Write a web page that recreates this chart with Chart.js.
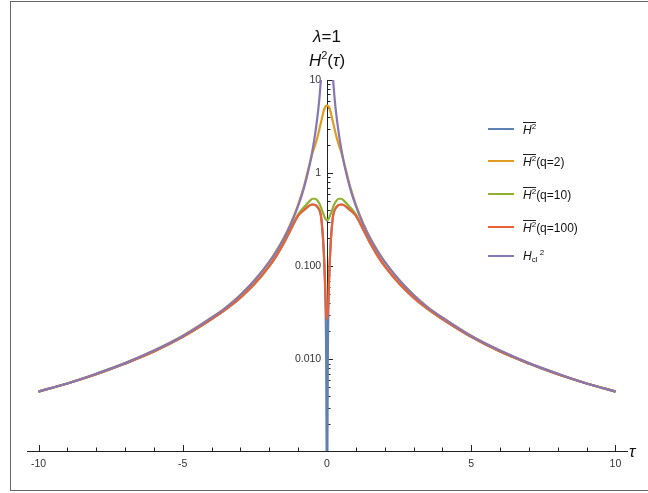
<!DOCTYPE html>
<html>
<head>
<meta charset="utf-8">
<script src="https://cdn.jsdelivr.net/npm/chart.js@4.4.1/dist/chart.umd.min.js"></script>
<style>
  html, body { margin: 0; padding: 0; background: #fff; }
  #wrap { position: relative; width: 648px; height: 493px; overflow: hidden; font-family: "Liberation Sans", Arial, sans-serif; color: #111; }
  #frame { position: absolute; left: 10px; top: 1px; width: 660px; height: 488px; border: 1.5px solid #666; }
  canvas { position: absolute; left: 0; top: 0; }
  .ttl { position: absolute; left: 277px; width: 100px; text-align: center; font-size: 17px; line-height: 20px; white-space: nowrap; }
  .ttl sup { font-size: 11px; vertical-align: 7px; line-height: 0; }
  #tau { position: absolute; left: 629px; top: 442px; font-size: 17px; line-height: 20px; font-style: italic; }
  .leg { position: absolute; left: 488px; height: 16px; display: flex; align-items: center; font-size: 12px; white-space: nowrap; }
  .sw { display: inline-block; width: 26px; height: 2px; margin-right: 9px; }
  .ov { display: inline-block; border-top: 1px solid #222; line-height: 12px; padding-top: 1px; }
  .leg sup { font-size: 8px; vertical-align: 5px; line-height: 0; }
  .leg sub { font-size: 8px; vertical-align: -2px; line-height: 0; }
</style>
</head>
<body>
<div id="wrap">
  <div id="frame"></div>
  <canvas id="chart" width="648" height="493"></canvas>
  <div class="ttl" style="top:27px"><i>λ</i>=1</div>
  <div class="ttl" style="top:51px"><i>H</i><sup>2</sup>(<i>τ</i>)</div>
  <div id="tau">τ</div>
  <div id="legend"></div>
</div>
<script>
// sample points along tau
const tau = [-10, -9, -8, -7, -6, -5, -4, -3.5, -3, -2.5, -2, -1.75, -1.5, -1.25, -1,
  -0.8, -0.6, -0.5, -0.4, -0.3, -0.25, -0.2, -0.12, -0.07, -0.03, 0,
  0.03, 0.07, 0.12, 0.2, 0.25, 0.3, 0.4, 0.5, 0.6, 0.8,
  1, 1.25, 1.5, 1.75, 2, 2.5, 3, 3.5, 4, 5, 6, 7, 8, 9, 10];

// H^2 bar (no q)
const hBar = [0.0045, 0.0055, 0.0069, 0.009, 0.0121, 0.0174, 0.027, 0.0345, 0.046, 0.065, 0.1, 0.13, 0.176, 0.25, 0.35,
  0.4, 0.45, 0.46, 0.455, 0.42, 0.39, 0.33, 0.16, 0.066, 0.012, 0.0002,
  0.012, 0.066, 0.16, 0.33, 0.39, 0.42, 0.455, 0.46, 0.45, 0.4,
  0.35, 0.25, 0.176, 0.13, 0.1, 0.065, 0.046, 0.0345, 0.027, 0.0174, 0.0121, 0.009, 0.0069, 0.0055, 0.0045];

// q = 2
const hQ2 = [0.0045, 0.0055, 0.007, 0.0091, 0.0124, 0.0179, 0.0281, 0.0362, 0.0493, 0.0715, 0.112, 0.147, 0.201, 0.292, 0.46,
  0.72, 1.27, 1.65, 2.05, 2.65, 3.1, 3.6, 4.6, 5.1, 5.28, 5.3,
  5.28, 5.1, 4.6, 3.6, 3.1, 2.65, 2.05, 1.65, 1.27, 0.72,
  0.46, 0.292, 0.201, 0.147, 0.112, 0.0715, 0.0493, 0.0362, 0.0281, 0.0179, 0.0124, 0.0091, 0.007, 0.0055, 0.0045];

// q = 10
const hQ10 = [0.0045, 0.0055, 0.0069, 0.009, 0.0121, 0.0174, 0.0271, 0.0346, 0.0462, 0.0655, 0.101, 0.131, 0.178, 0.255, 0.36,
  0.43, 0.5, 0.53, 0.53, 0.49, 0.46, 0.42, 0.36, 0.33, 0.315, 0.31,
  0.315, 0.33, 0.36, 0.42, 0.46, 0.49, 0.53, 0.53, 0.5, 0.43,
  0.36, 0.255, 0.178, 0.131, 0.101, 0.0655, 0.0462, 0.0346, 0.0271, 0.0174, 0.0121, 0.009, 0.0069, 0.0055, 0.0045];

// q = 100
const hQ100 = [0.0045, 0.0055, 0.0069, 0.009, 0.0121, 0.0174, 0.027, 0.0345, 0.046, 0.065, 0.1, 0.13, 0.176, 0.25, 0.35,
  0.4, 0.45, 0.46, 0.455, 0.42, 0.39, 0.33, 0.16, 0.07, 0.032, 0.027,
  0.032, 0.07, 0.16, 0.33, 0.39, 0.42, 0.455, 0.46, 0.45, 0.4,
  0.35, 0.25, 0.176, 0.13, 0.1, 0.065, 0.046, 0.0345, 0.027, 0.0174, 0.0121, 0.009, 0.0069, 0.0055, 0.0045];

// classical, runs off the top near tau = 0
const hCl = [0.0045, 0.0055, 0.007, 0.0091, 0.0124, 0.0178, 0.028, 0.036, 0.049, 0.071, 0.111, 0.145, 0.197, 0.284, 0.444,
  0.69, 1.23, 1.78, 2.78, 4.9, 7.1, 11.1, null, null, null, null,
  null, null, null, 11.1, 7.1, 4.9, 2.78, 1.78, 1.23, 0.69,
  0.444, 0.284, 0.197, 0.145, 0.111, 0.071, 0.049, 0.036, 0.028, 0.0178, 0.0124, 0.0091, 0.007, 0.0055, 0.0045];

const xTickValues = [-10, -5, 0, 5, 10];
const xTickLabels = ['-10', '-5', '0', '5', '10'];
const yTickValues = [0.01, 0.1, 1, 10];
const yTickLabels = ['0.010', '0.100', '1', '10'];

const Y_MIN = 0.001035;
const Y_MAX = 10;
const X_MIN = -10.4;
const X_MAX = 10.4;

const series = [
  { label: '<span class="ov"><i>H</i><sup>2</sup></span>', data: hBar, color: '#5E81B5', order: 4 },
  { label: '<span class="ov"><i>H</i><sup>2</sup></span>(q=2)', data: hQ2, color: '#E19C24', order: 3 },
  { label: '<span class="ov"><i>H</i><sup>2</sup></span>(q=10)', data: hQ10, color: '#8FB032', order: 2 },
  { label: '<span class="ov"><i>H</i><sup>2</sup></span>(q=100)', data: hQ100, color: '#EB6235', order: 1 },
  { label: '<i>H</i><sub>cl</sub>&thinsp;<sup>2</sup>', data: hCl, color: '#8778B3', order: 0 }
];

// legend rows (HTML so the overlines and sub/superscripts stay real text)
const legendTops = [121, 153, 186, 219, 248];
document.getElementById('legend').innerHTML = series.map((s, i) => `
  <div class="leg" style="top:${legendTops[i]}px">
    <span class="sw" style="background:${s.color}"></span><span>${s.label}</span>
  </div>`).join('');

// minor tick positions
const xMinor = [];
for (let v = -10; v <= 10; v++) xMinor.push(v);
const yMinor = [];
for (let e = -3; e <= 0; e++) {
  for (let k = 2; k <= 9; k++) yMinor.push(k * Math.pow(10, e));
}

// Mathematica style ticks: drawn on the far side of the axis from the labels
const axisTicks = {
  id: 'axisTicks',
  beforeDatasetsDraw(chart) {
    const { ctx, scales: { x, y } } = chart;
    const axisY = y.getPixelForValue(Y_MIN);
    const axisX = x.getPixelForValue(0);
    ctx.save();
    ctx.strokeStyle = '#222';
    ctx.lineWidth = 1;
    ctx.beginPath();
    xMinor.forEach((v) => {
      const px = Math.round(x.getPixelForValue(v)) + 0.5;
      const len = xTickValues.includes(v) ? 6 : 3.5;
      ctx.moveTo(px, axisY);
      ctx.lineTo(px, axisY - len);
    });
    yMinor.concat(yTickValues).forEach((v) => {
      if (v < Y_MIN || v > Y_MAX) return;
      const py = Math.round(y.getPixelForValue(v)) + 0.5;
      const len = yTickValues.includes(v) ? 6 : 3.5;
      ctx.moveTo(axisX, py);
      ctx.lineTo(axisX + len, py);
    });
    ctx.stroke();
    ctx.restore();
  }
};

const tickFont = { family: '"Liberation Sans", Arial, sans-serif', size: 10.5 };

new Chart(document.getElementById('chart'), {
  type: 'line',
  data: {
    datasets: series.map((s) => ({
      label: s.label,
      data: tau.map((t, i) => ({ x: t, y: s.data[i] })),
      borderColor: s.color,
      backgroundColor: s.color,
      borderWidth: 2.2,
      pointRadius: 0,
      cubicInterpolationMode: 'monotone',
      spanGaps: false,
      order: s.order
    }))
  },
  options: {
    responsive: false,
    animation: false,
    layout: { padding: { left: 27, right: 21, top: 80, bottom: 42 } },
    plugins: { legend: { display: false }, tooltip: { enabled: false } },
    scales: {
      x: {
        type: 'linear',
        min: X_MIN,
        max: X_MAX,
        position: { y: Y_MIN },
        grid: { display: false, drawTicks: false },
        border: { display: true, color: '#222', width: 1 },
        afterBuildTicks: (scale) => { scale.ticks = xTickValues.map((v) => ({ value: v })); },
        ticks: {
          autoSkip: false,
          maxRotation: 0,
          padding: 7,
          color: '#333',
          font: tickFont,
          callback: (v) => xTickLabels[xTickValues.indexOf(v)]
        }
      },
      y: {
        type: 'logarithmic',
        min: Y_MIN,
        max: Y_MAX,
        position: { x: 0 },
        grid: { display: false, drawTicks: false },
        border: { display: true, color: '#222', width: 1 },
        afterBuildTicks: (scale) => { scale.ticks = yTickValues.map((v) => ({ value: v })); },
        ticks: {
          autoSkip: false,
          padding: 5,
          color: '#333',
          font: tickFont,
          // labels sit right against an axis placed by value, so pad them with spaces
          callback: (v) => yTickLabels[yTickValues.indexOf(v)] + '  '
        }
      }
    }
  },
  plugins: [axisTicks]
});
</script>
</body>
</html>
